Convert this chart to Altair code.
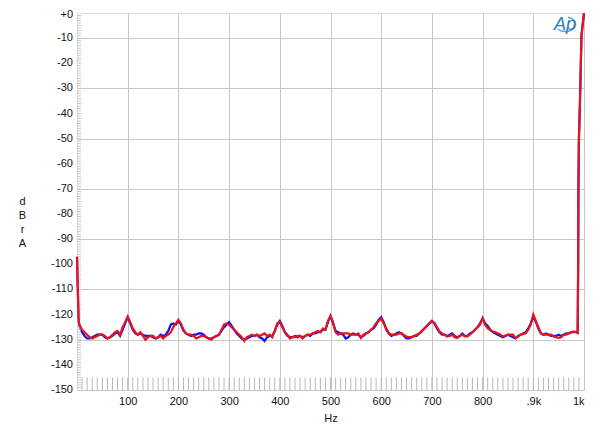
import altair as alt
import pandas as pd

# ---- data ----
head_hz = [0, 1, 2, 3, 4]
head_red = [-97, -105, -113, -121, -123.5]
head_blue = [-97, -105, -113, -121, -123.8]

grid_hz = list(range(5, 990, 5))

red_vals = [
    -124, -126, -127, -128, -129, -129.5, -129, -128.5, -128, -128, -128.5, -129.5, -129, -128, -127, -126.5, -128, -125, -123, -120.8,
    -123, -125.5, -127, -128, -127, -128.5, -130, -129, -128.5, -128.5, -129.5, -129, -128.5, -129.5, -128.5, -128, -127, -125, -123.5, -122,
    -123.5, -126, -127.5, -128, -128, -128.5, -129.5, -129, -128.5, -128.5, -129, -129.5, -130, -129, -128.5, -128, -126, -124, -123.5, -124,
    -125, -126, -127, -128, -129, -130.5, -129, -128.5, -128, -128.5, -128, -128.5, -128, -127.5, -128.5, -128, -129, -126.5, -123.5, -123,
    -125, -127, -128, -129.5, -129, -129, -128.5, -128.5, -129.5, -128.5, -128, -128, -127.5, -127, -126.5, -127, -125.5, -126, -122.5, -120.5,
    -123, -127, -128, -127.5, -127.5, -127.5, -127.5, -128, -128, -128, -127.5, -129.3, -128, -127.4, -127, -126, -125, -123.4, -122.5, -121.5,
    -123.5, -125.5, -127.4, -128, -128, -128, -127.5, -127.4, -128.2, -128.7, -129, -129, -128.5, -128, -127.5, -126.7, -125.5, -124.5, -123.5, -122.7,
    -123.4, -125, -126.7, -127.5, -128, -128.7, -128.5, -128, -129, -129.3, -128.5, -128, -128.7, -128.7, -128, -127, -126, -125, -124, -121.4,
    -124, -125.4, -126.2, -126.7, -127, -127.4, -128, -128.7, -128.3, -128, -128, -128, -129.3, -128.7, -128, -127.7, -127.4, -126, -124, -120,
    -122.5, -125, -127.4, -128, -128, -128, -128, -128.7, -129, -129.3, -129, -128, -128, -127.4, -127, -126.7, -127,
]
blue_vals = [
    -124.5, -127, -128.5, -129.5, -129.5, -129, -128.5, -128, -128, -128, -129, -129.5, -129, -128.5, -127.5, -127, -128.5, -126, -123.5, -121,
    -123.5, -126, -127.5, -128, -127.5, -128, -128.5, -128.5, -128.5, -129, -129.5, -129, -128, -128.5, -128, -126.5, -124, -123.5, -124, -122.5,
    -124, -126.5, -127.5, -128, -128.5, -128, -128, -127.5, -127.5, -128, -129, -129.5, -129.5, -129, -128.5, -128, -126.5, -125, -124, -123,
    -124.5, -126, -127.5, -128.5, -129.5, -130, -129.5, -129, -128.5, -128.5, -128, -129, -129.5, -130.5, -129, -128.5, -128.5, -126.5, -124, -122.5,
    -124.5, -127, -128.5, -129, -129, -128.5, -129, -128.5, -129, -128.5, -128, -128.5, -127.5, -127.5, -127, -127, -126, -126, -123, -120.5,
    -123.5, -126.5, -127, -127.5, -128, -129.5, -129, -128, -127.5, -128, -128, -129, -128.5, -127.5, -127, -126, -125.5, -124, -122, -121,
    -123, -126, -127.5, -128.5, -128, -127.5, -127, -127.5, -128.5, -129.5, -129.5, -129, -128.5, -128.5, -127.5, -126.5, -125.5, -124.5, -123.5, -122.5,
    -123.5, -125.5, -127, -128, -128, -128.5, -128, -127.5, -128.5, -129, -128.5, -127.5, -128.5, -128.5, -127.5, -127, -126, -125, -123.5, -121.5,
    -123.5, -124.5, -126, -127, -127.5, -128, -128.5, -129, -128.5, -128, -128.5, -129, -129.5, -128.5, -128, -127.5, -127, -125.5, -123.5, -120.5,
    -123, -125.5, -127.5, -128, -127.5, -128, -128.5, -128.5, -128.5, -128, -128.5, -128, -127.5, -127.5, -127, -127, -127,
]

tail_hz = [987.5, 988.5, 989, 990, 992, 995, 1000]
tail_red = [-127.3, -100, -70, -50, -36, -9, 0]
tail_blue = [-127.2, -100, -70, -50, -36, -9, 0]

x_labels = {100: "100", 200: "200", 300: "300", 400: "400", 500: "500",
            600: "600", 700: "700", 800: "800", 900: ".9k", 1000: "1k"}
y_ticks = [0, -10, -20, -30, -40, -50, -60, -70, -80, -90, -100, -110, -120, -130, -140, -150]
y_tick_labels = ["+0", "-10", "-20", "-30", "-40", "-50", "-60", "-70", "-80", "-90",
                 "-100", "-110", "-120", "-130", "-140", "-150"]
minor_x = list(range(10, 1000, 10))
minor_y = list(range(-149, 0, 1))

# ---- tables ----
hz_all = head_hz + grid_hz + tail_hz
red_df = pd.DataFrame({"hz": hz_all, "db": head_red + red_vals + tail_red})
blue_df = pd.DataFrame({"hz": hz_all, "db": head_blue + blue_vals + tail_blue})
minor_x_df = pd.DataFrame({"hz": minor_x, "y1": -150, "y2": -145})
minor_y_df = pd.DataFrame({"db": minor_y, "x1": 0, "x2": 8})
ylab_df = pd.DataFrame({"db": y_ticks, "lab": y_tick_labels})

label_expr = " : ".join(
    [f"datum.value == {k} ? '{v}'" for k, v in x_labels.items()]) + " : ''"

xscale = alt.Scale(domain=[0, 1000], nice=False, zero=False)
yscale = alt.Scale(domain=[-150, 0], nice=False, zero=False)

FONT = "Liberation Sans"
GRID = "#c8c8c8"

x_axis = alt.Axis(
    values=list(x_labels.keys()), labelExpr=label_expr, grid=True,
    gridColor=GRID, ticks=False, domain=False, labelPadding=5,
    labelFontSize=11, labelFont=FONT, labelColor="#111", labelOverlap=False,
    labelAlign={"condition": {"test": "datum.value == 1000", "value": "right"}, "value": "center"},
    title="Hz", titleFontSize=11, titleFont=FONT, titleFontWeight="normal",
    titlePadding=6, titleColor="#111",
)
y_axis = alt.Axis(
    values=y_ticks, labels=False,
    grid=True, gridColor=GRID, ticks=False, domain=False,
    title=["d", "B", "r", "", "A"], titleAngle=0, titleAlign="center",
    titleBaseline="middle", titleX=-55, titleY=188, titleLineHeight=14,
    titleFontSize=11, titleFont=FONT, titleFontWeight="normal", titleColor="#111",
)

base_blue = alt.Chart(blue_df).mark_line(color="#1010ee", strokeWidth=2.2).encode(
    x=alt.X("hz:Q", scale=xscale, axis=x_axis),
    y=alt.Y("db:Q", scale=yscale, axis=y_axis),
)
red = alt.Chart(red_df).mark_line(color="#e8141c", strokeWidth=2.2).encode(
    x=alt.X("hz:Q", scale=xscale),
    y=alt.Y("db:Q", scale=yscale),
)
mx = alt.Chart(minor_x_df).mark_rule(color="#b8b8b8", strokeWidth=1).encode(
    x=alt.X("hz:Q", scale=xscale),
    y=alt.Y("y1:Q", scale=yscale), y2="y2:Q"
)
my = alt.Chart(minor_y_df).mark_rule(color="#c8c8c8", strokeWidth=1).encode(
    y=alt.Y("db:Q", scale=yscale),
    x=alt.X("x1:Q", scale=xscale), x2="x2:Q"
)
ylabels = alt.Chart(ylab_df).transform_filter("datum.db < 0").mark_text(
    font=FONT, fontSize=11, color="#111", align="right", baseline="middle", dx=-4,
).encode(y=alt.Y("db:Q", scale=yscale), x=alt.value(0), text="lab:N")
ylabel_top = alt.Chart(ylab_df).transform_filter("datum.db == 0").mark_text(
    font=FONT, fontSize=11, color="#111", align="right", baseline="middle", dx=-4, dy=2,
).encode(y=alt.Y("db:Q", scale=yscale), x=alt.value(0), text="lab:N")
logo = alt.Chart(pd.DataFrame({"t": ["Ap"]})).mark_text(
    font=FONT, fontSize=18, fontStyle="italic", color="#2a7fc0", align="center",
    baseline="middle",
).encode(x=alt.value(488), y=alt.value(12), text="t:N")
swoosh = alt.Chart(pd.DataFrame({"t": ["Ap"]})).mark_point(
    shape="M-1,0.45 C-0.2,1.05 1.05,0.55 0.95,-0.15 C0.9,-0.6 0.4,-0.8 0.1,-0.85",
    filled=False, size=320, color="#2a7fc0", strokeWidth=1.6,
).encode(x=alt.value(490), y=alt.value(12))

chart = alt.layer(base_blue, my, mx, red, ylabels, ylabel_top, logo, swoosh).properties(
    width=507, height=377,
    autosize=alt.AutoSizeParams(type="none"),
    padding={"left": 69, "top": 5, "right": 8, "bottom": 36},
).configure_view(stroke=GRID).configure(background="white")

chart.save("out.html", embed_options={"renderer": "svg", "actions": False})
